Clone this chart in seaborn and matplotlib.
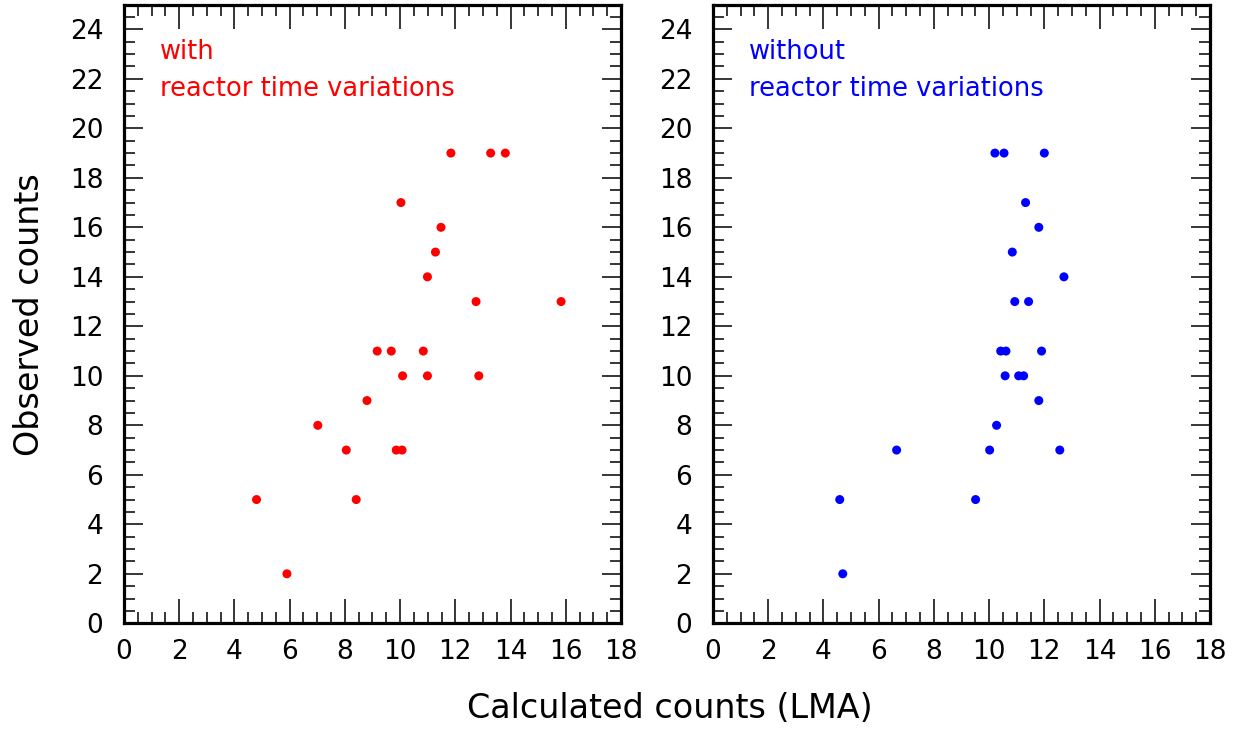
import numpy as np
import pandas as pd
import seaborn as sns
import matplotlib.pyplot as plt
from matplotlib.ticker import MultipleLocator

# datos
calc_with = [11.84, 13.28, 13.81, 10.03, 11.48, 11.28, 10.99, 12.75, 15.83,
             9.17, 9.68, 10.84, 10.09, 10.99, 12.85, 8.80, 7.02, 8.05, 9.86,
             10.07, 4.80, 8.41, 5.90]
obs_with = [19, 19, 19, 17, 16, 15, 14, 13, 13,
            11, 11, 11, 10, 10, 10, 9, 8, 7, 7,
            7, 5, 5, 2]

calc_without = [10.21, 10.54, 12.00, 11.32, 11.80, 10.84, 12.71, 10.93, 11.43,
                10.42, 10.61, 11.90, 10.58, 11.07, 11.25, 11.80, 10.27, 6.65,
                10.02, 12.56, 4.59, 9.51, 4.70]
obs_without = [19, 19, 19, 17, 16, 15, 14, 13, 13,
               11, 11, 11, 10, 10, 10, 9, 8, 7,
               7, 7, 5, 5, 2]

panel_labels = ["with", "without"]
panel_colors = ["#ff0000", "#0000ff"]
x_ticks = list(range(0, 19, 2))
y_ticks = list(range(0, 25, 2))

df_with = pd.DataFrame({"calc": calc_with, "obs": obs_with})
df_without = pd.DataFrame({"calc": calc_without, "obs": obs_without})

sns.set_style("ticks")
plt.rcParams['font.family'] = ['DejaVu Sans']
plt.rcParams['text.color'] = 'black'
plt.rcParams['xtick.labelcolor'] = 'black'
plt.rcParams['ytick.labelcolor'] = 'black'

fig = plt.figure(figsize=(12.38, 7.29), dpi=100)
ax1 = fig.add_axes([124/1238, 1 - 623.3/729, 497/1238, 618.7/729])
ax2 = fig.add_axes([713/1238, 1 - 623.3/729, 497/1238, 618.7/729])

for ax, d, lab, col in zip([ax1, ax2], [df_with, df_without], panel_labels, panel_colors):
    sns.scatterplot(data=d, x="calc", y="obs", ax=ax, color=col, s=42,
                    edgecolor="none", linewidth=0, legend=False)
    ax.set_xlim(0, 18)
    ax.set_ylim(0, 25)
    ax.set_xticks(x_ticks)
    ax.set_yticks(y_ticks)
    ax.xaxis.set_minor_locator(MultipleLocator(0.5))
    ax.yaxis.set_minor_locator(MultipleLocator(0.5))
    ax.tick_params(which="both", direction="in", top=True, right=True,
                   width=1.1, color="black", labelsize=19, labelcolor="black")
    ax.tick_params(axis="x", which="major", length=17, pad=11)
    ax.tick_params(axis="x", which="minor", length=8)
    ax.tick_params(axis="y", which="major", length=14, pad=15)
    ax.tick_params(axis="y", which="minor", length=8)
    for sp in ax.spines.values():
        sp.set_linewidth(2.3)
        sp.set_color("black")
    ax.set_xlabel("")
    ax.set_ylabel("")
    ax.text(0.072, 0.923, lab, transform=ax.transAxes, color=col,
            fontsize=18.5, va="center", ha="left")
    ax.text(0.072, 0.864, "reactor time variations", transform=ax.transAxes,
            color=col, fontsize=18.5, va="center", ha="left")

fig.text(30/1238, 1 - 315/729, "Observed counts", rotation=90,
         fontsize=24, ha="center", va="center", color="black")
fig.text(670/1238, 1 - 708/729, "Calculated counts (LMA)",
         fontsize=24, ha="center", va="center", color="black")

fig.savefig("out.png", dpi=100)
